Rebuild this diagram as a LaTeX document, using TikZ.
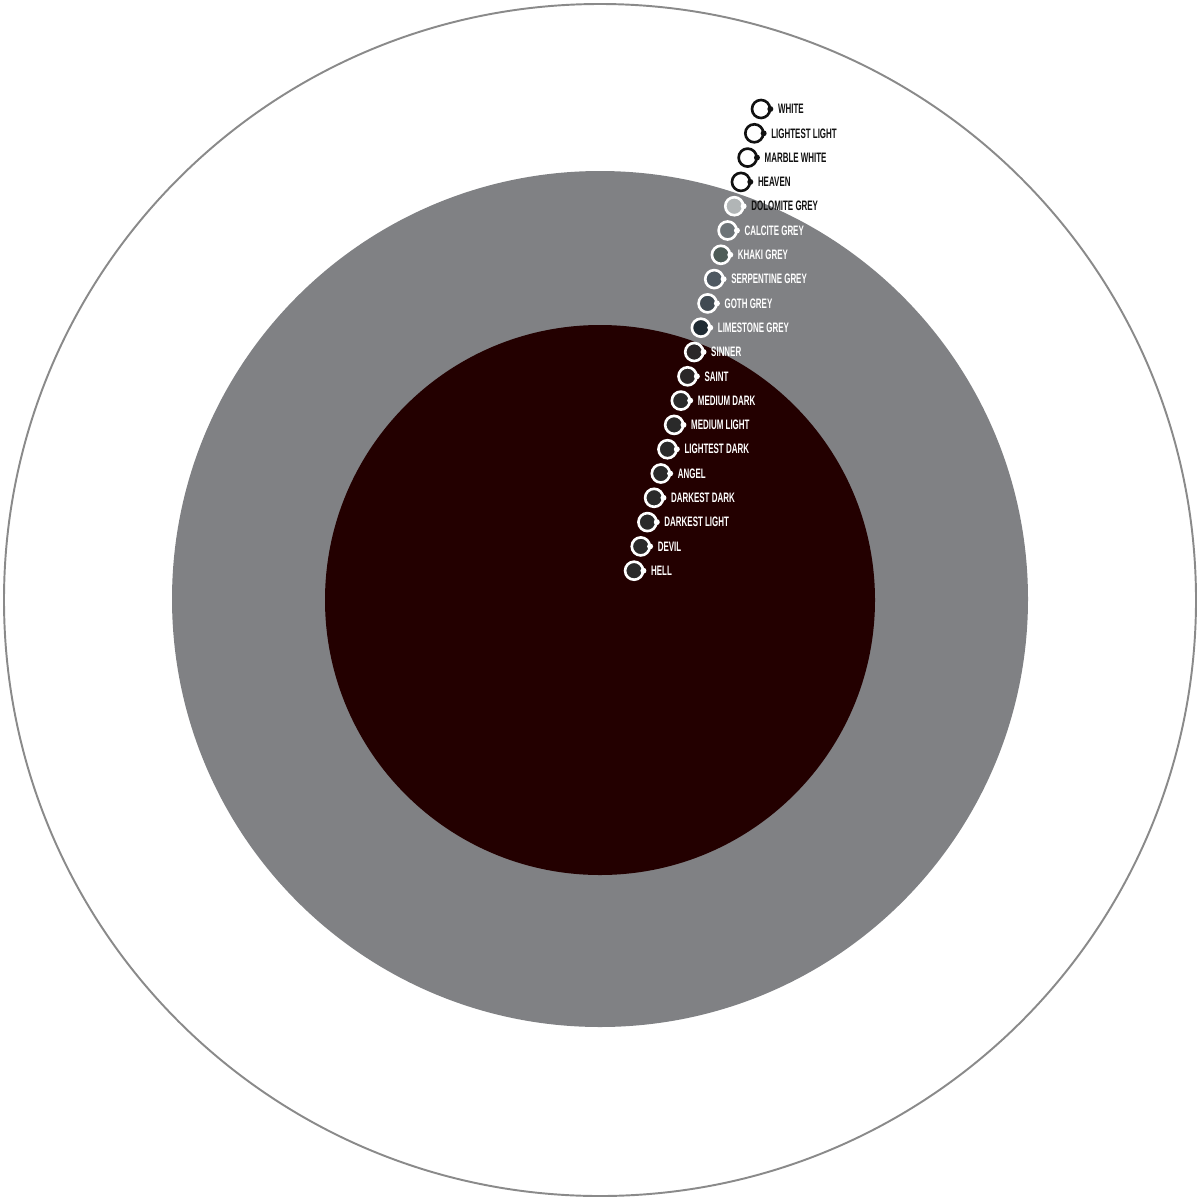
\documentclass[tikz,border=0pt]{standalone}
\usepackage{fontspec}
\newfontfamily\swatchfont[FakeStretch=0.58]{Liberation Sans}
\usetikzlibrary{positioning}

\definecolor{outerline}{HTML}{8A8A8A}
\definecolor{ringgrey}{HTML}{808184}
\definecolor{coredark}{HTML}{230000}
\definecolor{inkdark}{HTML}{111111}
\definecolor{dolomite}{HTML}{B1B5B6}
\definecolor{calcite}{HTML}{6D7478}
\definecolor{khaki}{HTML}{4E5C57}
\definecolor{serpentine}{HTML}{4F5962}
\definecolor{goth}{HTML}{414B53}
\definecolor{limestone}{HTML}{1F2B33}
\definecolor{sinner}{HTML}{2B2728}
\definecolor{deepdark}{HTML}{2A2A2A}

\begin{document}
\begin{tikzpicture}[x=0.01cm,y=-0.01cm]
	\tikzstyle{swatch} = [draw, circle, line width=0.75pt, minimum size=0.18cm, inner sep=0pt]
	\tikzstyle{tag} = [anchor=west, inner sep=0pt, font=\swatchfont\bfseries\fontsize{3.9pt}{4.4pt}\selectfont]
	\useasboundingbox (0,0) rectangle (1200,1200);
	% Rings
	\draw[outerline, line width=0.55pt] (600,600) circle[radius=596];
	\fill[ringgrey] (600,599) circle[radius=428];
	\fill[coredark] (600,600) circle[radius=275];

	% Swatches and labels
	\foreach \lbl/\fc/\dc/\tc [count=\i from 0] in {
		WHITE/white/inkdark/inkdark,
		LIGHTEST LIGHT/white/inkdark/inkdark,
		MARBLE WHITE/white/inkdark/inkdark,
		HEAVEN/white/inkdark/inkdark,
		DOLOMITE GREY/dolomite/white/inkdark,
		CALCITE GREY/calcite/white/white,
		KHAKI GREY/khaki/white/white,
		SERPENTINE GREY/serpentine/white/white,
		GOTH GREY/goth/white/white,
		LIMESTONE GREY/limestone/white/white,
		SINNER/sinner/white/white,
		SAINT/sinner/white/white,
		MEDIUM DARK/deepdark/white/white,
		MEDIUM LIGHT/deepdark/white/white,
		LIGHTEST DARK/deepdark/white/white,
		ANGEL/deepdark/white/white,
		DARKEST DARK/deepdark/white/white,
		DARKEST LIGHT/deepdark/white/white,
		DEVIL/deepdark/white/white,
		HELL/deepdark/white/white} {
		\node[swatch, draw=\dc, fill=\fc] (s\i) at ({761-6.68*\i},{109+24.3*\i}) {};
		\fill[\dc] ([xshift=-0.01cm]s\i.east) circle[radius=3];
		\node[tag, text=\tc, right=0.06cm of s\i] (t\i) {\lbl};
	}
\end{tikzpicture}
\end{document}
